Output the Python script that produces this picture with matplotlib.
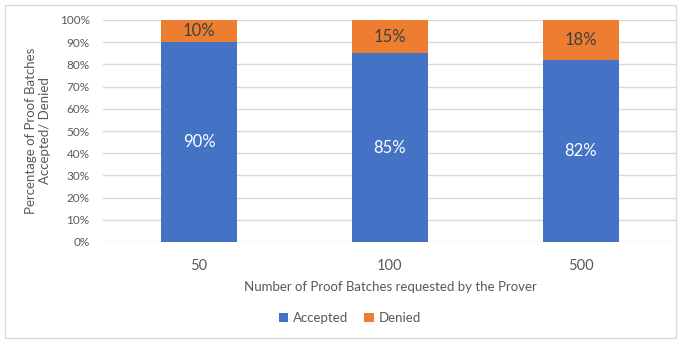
import matplotlib.pyplot as plt
from matplotlib.patches import Rectangle
from matplotlib.ticker import PercentFormatter

plt.rcParams['font.family'] = ['Lato', 'DejaVu Sans']

batches = ['50', '100', '500']
accepted = [90, 85, 82]
denied = [10, 15, 18]

blue = '#4472C4'
orange = '#ED7D31'
grey = '#595959'

fig = plt.figure(figsize=(6.8, 3.43), dpi=100)
ax = fig.add_axes([103.5 / 680, 1 - 242 / 343, 573 / 680, 222 / 343])

x = range(len(batches))
b1 = ax.bar(x, accepted, width=0.4, color=blue, label='Accepted', zorder=3)
b2 = ax.bar(x, denied, width=0.4, bottom=accepted, color=orange, label='Denied', zorder=3)

for rect, v in zip(b1, accepted):
    ax.text(rect.get_x() + rect.get_width() / 2, v / 2, f'{v}%', ha='center', va='center',
            color='white', fontsize=12)
for rect, a, d in zip(b2, accepted, denied):
    ax.text(rect.get_x() + rect.get_width() / 2, a + d / 2, f'{d}%', ha='center', va='center',
            color='#404040', fontsize=12)

ax.set_xlim(-0.5, 2.5)
ax.set_ylim(0, 100)
ax.set_yticks(range(0, 101, 10))
ax.yaxis.set_major_formatter(PercentFormatter(decimals=0))
ax.set_xticks(list(x))
ax.set_xticklabels(batches)
ax.tick_params(axis='y', length=0, labelsize=8.5, labelcolor=grey, pad=10)
ax.tick_params(axis='x', length=0, labelsize=10.5, labelcolor=grey, pad=12)
ax.grid(axis='y', color='#D9D9D9', linewidth=1, zorder=0)
for s in ax.spines.values():
    s.set_visible(False)

ax.set_xlabel('Number of Proof Batches requested by the Prover', fontsize=9.5, color=grey, labelpad=6)
ax.set_ylabel('Percentage of Proof Batches\nAccepted/ Denied', fontsize=9.5, color=grey, labelpad=6)

fig.legend(handles=[b1, b2], labels=['Accepted', 'Denied'], loc='center', bbox_to_anchor=(350 / 680, 1 - 318 / 343),
           ncol=2, frameon=False, fontsize=9.5, labelcolor=grey, handlelength=0.7, handleheight=0.7,
           handletextpad=0.4, columnspacing=1.2)

fig.patches.append(Rectangle((5 / 680, 5 / 343), 671 / 680, 333 / 343, transform=fig.transFigure,
                             fill=False, edgecolor='#D9D9D9', linewidth=1))

fig.savefig('out.png', dpi=100)
